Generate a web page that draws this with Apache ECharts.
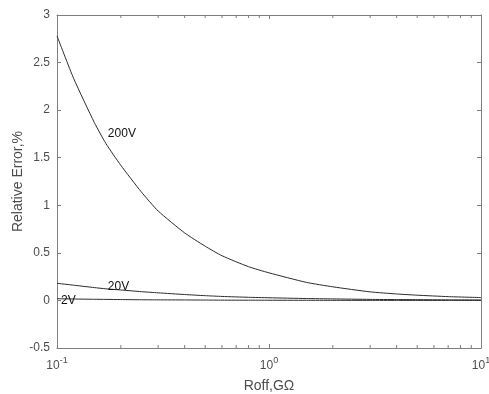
<!DOCTYPE html>
<html>
<head>
<meta charset="utf-8">
<script src="https://cdn.jsdelivr.net/npm/echarts@6/dist/echarts.min.js"></script>
<style>
  html, body { margin: 0; padding: 0; background: #fff; }
  #chart { width: 489px; height: 394px; }
</style>
</head>
<body>
<div id="chart"></div>
<script>
// values
const roff = [0.1, 0.12, 0.15, 0.17, 0.2, 0.25, 0.3, 0.4, 0.5, 0.6, 0.8, 1, 1.5, 2, 3, 4, 5, 7, 10];
const err200 = [2.78, 2.33, 1.87, 1.65, 1.42, 1.14, 0.94, 0.71, 0.57, 0.47, 0.355, 0.29, 0.19, 0.143, 0.09, 0.068, 0.055, 0.04, 0.03];
const err20 = [0.18, 0.16, 0.135, 0.122, 0.11, 0.092, 0.08, 0.062, 0.05, 0.042, 0.033, 0.028, 0.02, 0.016, 0.011, 0.009, 0.008, 0.006, 0.005];
const err2 = [0.018, 0.015, 0.012, 0.011, 0.009, 0.007, 0.006, 0.005, 0.004, 0.003, 0.0025, 0.002, 0.0015, 0.001, 0.0008, 0.0006, 0.0005, 0.0004, 0.0003];
const labelAt = { '200V': 3, '20V': 3, '2V': 0 };
const minorX = [0.2, 0.3, 0.4, 0.5, 0.6, 0.7, 0.8, 0.9, 2, 3, 4, 5, 6, 7, 8, 9];

const axisGray = '#7f7f7f';
const textGray = '#4d4d4d';
const font = 'Liberation Sans, Arial, sans-serif';

const mkSeries = (name, ys, off) => ({
  name,
  type: 'line',
  showSymbol: true,
  symbol: 'circle',
  symbolSize: 0,
  smooth: 0.2,
  lineStyle: { color: '#2b2b2b', width: 1 },
  data: roff.map((x, i) => {
    if (i !== labelAt[name]) return [x, ys[i]];
    return {
      value: [x, ys[i]],
      label: {
        show: true,
        formatter: name,
        position: 'right',
        distance: 0,
        offset: off,
        color: '#111',
        fontSize: 12,
        fontFamily: font,
      },
    };
  }),
  z: 3,
});

const yAxisBase = {
  type: 'value',
  min: -0.5,
  max: 3,
  interval: 0.5,
  axisLine: { show: true, onZero: false, lineStyle: { color: axisGray } },
  axisTick: { inside: true, length: 4, lineStyle: { color: axisGray } },
  splitLine: { show: false },
};

const xAxisBase = {
  type: 'log',
  min: 0.1,
  max: 10,
  logBase: 10,
  axisLine: { show: true, onZero: false, lineStyle: { color: axisGray } },
  axisTick: { inside: true, length: 4, lineStyle: { color: axisGray } },
  splitLine: { show: false },
};

const chart = echarts.init(document.getElementById('chart'));
chart.setOption({
  animation: false,
  grid: { left: 57, right: 8, top: 15, bottom: 46, outerBoundsMode: 'none' },
  xAxis: [
    {
      ...xAxisBase,
      name: 'Roff,G\u03a9',
      nameLocation: 'middle',
      nameGap: 31,
      nameTextStyle: { color: textGray, fontSize: 14, fontFamily: font },
      axisLabel: {
        margin: 6,
        formatter: (v) => '{b|10}{s|' + Math.round(Math.log10(v)) + '}',
        rich: {
          b: { fontSize: 12, color: textGray, fontFamily: font, verticalAlign: 'bottom', padding: [6, 0, 0, 0] },
          s: { fontSize: 9, color: textGray, fontFamily: font, verticalAlign: 'bottom', padding: [0, 0, 7, 0] },
        },
      },
    },
    { ...xAxisBase, position: 'top', axisLabel: { show: false } },
  ],
  yAxis: [
    {
      ...yAxisBase,
      name: 'Relative Error,%',
      nameLocation: 'middle',
      nameGap: 32,
      nameMoveOverlap: false,
      nameTextStyle: { color: textGray, fontSize: 14, fontFamily: font },
      axisLabel: { color: textGray, fontSize: 12, fontFamily: font, margin: 7 },
    },
    { ...yAxisBase, position: 'right', axisLabel: { show: false } },
  ],
  series: [
    mkSeries('200V', err200, [2, -10]),
    mkSeries('20V', err20, [2, -2]),
    mkSeries('2V', err2, [4, 2]),
    {
      type: 'custom',
      silent: true,
      renderItem: (params, api) => {
        const x = api.value(0);
        const bot = api.coord([x, -0.5]);
        const top = api.coord([x, 3]);
        const style = { stroke: axisGray, lineWidth: 1 };
        return {
          type: 'group',
          children: [
            { type: 'line', shape: { x1: bot[0], y1: bot[1], x2: bot[0], y2: bot[1] - 3 }, style },
            { type: 'line', shape: { x1: top[0], y1: top[1], x2: top[0], y2: top[1] + 3 }, style },
          ],
        };
      },
      data: minorX.map((x) => [x, 0]),
      z: 2,
    },
  ],
});
</script>
</body>
</html>
